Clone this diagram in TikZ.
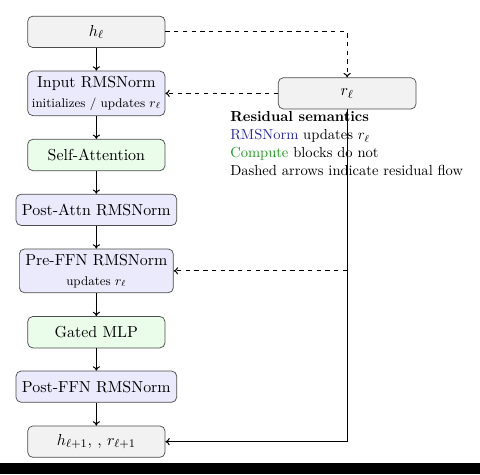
\documentclass[tikz,border=0pt]{standalone}
\usetikzlibrary{arrows.meta}
\definecolor{boxgray}{RGB}{242,242,242}
\definecolor{boxblue}{RGB}{234,234,252}
\definecolor{boxgreen}{RGB}{234,252,234}
\definecolor{txtblue}{RGB}{40,40,160}
\definecolor{txtgreen}{RGB}{30,150,30}
\tikzset{
  base/.style={draw=black!70, line width=0.5pt, rounded corners=3.5pt, inner sep=0pt, align=center,
    font=\fontsize{10.95}{13.75}\selectfont},
  grayb/.style={base, fill=boxgray, minimum width=94.4pt, minimum height=21.6pt},
  blueb/.style={base, fill=boxblue},
  greenb/.style={base, fill=boxgreen, minimum width=94.4pt, minimum height=21.6pt},
  flow/.style={-{To[length=3pt,width=5pt]}, line width=0.7pt},
  resid/.style={-{To[length=3pt,width=5pt]}, line width=0.7pt, dashed},
  legend/.style={anchor=base west, inner sep=0pt, font=\fontsize{10}{12}\selectfont},
}
\newcommand{\subtxt}[1]{{\fontsize{8.7}{10}\selectfont #1}}
\begin{document}
\begin{tikzpicture}[x=0.6878pt, y=-0.6878pt]
\useasboundingbox (0,0) rectangle (480,474);
\fill[black] (0,463.3) rectangle (480,474);

\node[grayb] (h) at (96.35,31.85) {$h_\ell$};
\node[blueb, minimum width=94.4pt, minimum height=30.7pt] (in) at (96.35,93.35)
  {Input RMSNorm\\\subtxt{initializes / updates $r_\ell$}};
\node[greenb] (sa) at (96.35,155) {Self-Attention};
\node[blueb, minimum width=110.5pt, minimum height=21.5pt] (pa) at (96.35,209.8) {Post-Attn RMSNorm};
\node[blueb, minimum width=105.9pt, minimum height=30.1pt] (pre) at (96.35,270.85)
  {Pre-FFN RMSNorm\\\subtxt{updates $r_\ell$}};
\node[greenb] (mlp) at (96.35,332.2) {Gated MLP};
\node[blueb, minimum width=110.5pt, minimum height=21.5pt] (pf) at (96.35,386.65) {Post-FFN RMSNorm};
\node[grayb] (out) at (96.35,441.65) {$h_{\ell+1}, \, , \, r_{\ell+1}$};

\node[grayb, minimum width=94.7pt, minimum height=21.5pt] (r) at (347.15,93.35) {$r_\ell$};

\node[legend] (leg1) at (230,121.7) {\textbf{Residual semantics}};
\node[legend] (leg2) at (230,140) {\textcolor{txtblue}{RMSNorm} updates $r_\ell$};
\node[legend] (leg3) at (230,157.5) {\textcolor{txtgreen}{Compute} blocks do not};
\node[legend] (leg4) at (230,175) {Dashed arrows indicate residual flow};

\draw[flow] (h) -- (in);
\draw[flow] (in) -- (sa);
\draw[flow] (sa) -- (pa);
\draw[flow] (pa) -- (pre);
\draw[flow] (pre) -- (mlp);
\draw[flow] (mlp) -- (pf);
\draw[flow] (pf) -- (out);

\draw[resid] (h.east) -| (r.north);
\draw[resid] (r.west) -- (in.east);
\coordinate (tap) at (r.south |- pre.east);
\draw[resid] (tap) -- (pre.east);
\draw[flow] (r.south) |- (out.east);
\end{tikzpicture}
\end{document}
